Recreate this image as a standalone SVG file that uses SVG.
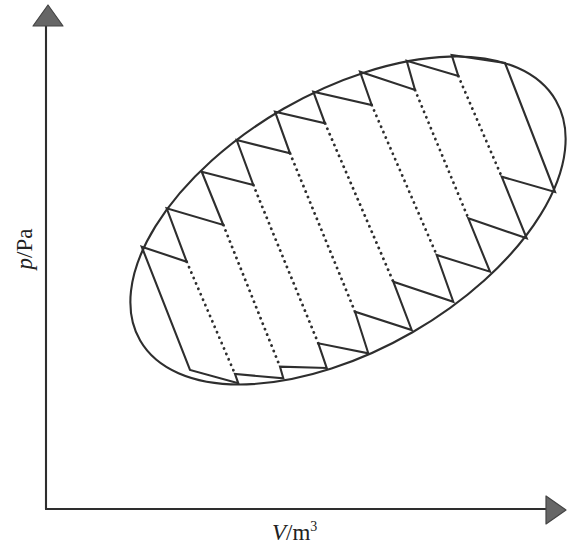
<svg xmlns="http://www.w3.org/2000/svg" width="567" height="546" viewBox="0 0 567 546">
<style>
.ln{fill:none;stroke:#2e2e2e;stroke-width:2.1;stroke-linejoin:miter;stroke-linecap:round}
.dot{fill:none;stroke:#2e2e2e;stroke-width:2.8;stroke-dasharray:0.1 5.8;stroke-linecap:round}
.arr{fill:#666;stroke:#444;stroke-width:1.2;stroke-linejoin:round}
.lbl{font-family:"Liberation Serif","Times New Roman",serif;font-size:23px;fill:#222}
</style>
<rect width="567" height="546" fill="#fff"/>
<g id="axes">
  <line class="ln" x1="46" y1="24" x2="46" y2="509"/>
  <line class="ln" x1="46" y1="509" x2="547" y2="509"/>
  <polygon class="arr" points="33,26 63,26 48,5"/>
  <polygon class="arr" points="546,496 546,524 566,510"/>
  <text class="lbl" transform="translate(32,249) rotate(-90)" text-anchor="middle"><tspan font-style="italic">p</tspan>/Pa</text>
  <text class="lbl" x="272" y="540"><tspan font-style="italic">V</tspan>/m<tspan font-size="14" dy="-9">3</tspan></text>
</g>
<g id="cycle">
  <ellipse class="ln" cx="348" cy="220.5" rx="240" ry="129" transform="rotate(-30 348 220.5)"/>
</g>
<g id="carnot-cycles">
  <polygon class="ln" points="141.7,246.7 186.7,261.7 166.7,208.3 223.3,225 201.7,171.7 253.3,185 236.7,140 290,153.3 275,111.7 325,123.3 313.3,91.7 371.7,105 360,71.7 415,90 406.7,60.7 458.3,76 451.7,55 505,63 555,192 501.7,176.7 526.7,238.3 468.3,218.3 490,271.7 436.7,255 453.3,301.7 393.3,281.7 411.7,330 355,311.7 368.3,353.3 318.3,343.3 326.7,368 280,366.7 283.3,378.3 235,374 238.3,383.3 190,370"/>
</g>
<g id="connectors">
  <line class="dot" x1="186.7" y1="261.7" x2="235" y2="374"/>
  <line class="dot" x1="223.3" y1="225" x2="280" y2="366.7"/>
  <line class="dot" x1="253.3" y1="185" x2="318.3" y2="343.3"/>
  <line class="dot" x1="290" y1="153.3" x2="355" y2="311.7"/>
  <line class="dot" x1="325" y1="123.3" x2="393.3" y2="281.7"/>
  <line class="dot" x1="371.7" y1="105" x2="436.7" y2="255"/>
  <line class="dot" x1="415" y1="90" x2="468.3" y2="218.3"/>
  <line class="dot" x1="458.3" y1="76" x2="501.7" y2="176.7"/>
</g>
</svg>
